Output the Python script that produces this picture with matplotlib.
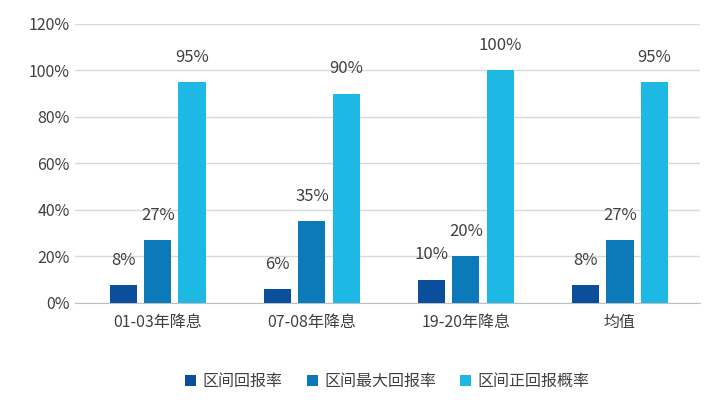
import numpy as np
import matplotlib.pyplot as plt

plt.rcParams['font.family'] = ['Noto Sans CJK SC', 'DejaVu Sans']

categories = ['01-03年降息', '07-08年降息', '19-20年降息', '均值']
series_names = ['区间回报率', '区间最大回报率', '区间正回报概率']
ret = [7.7, 6, 10, 7.7]
max_ret = [27, 35, 20, 27]
pos_prob = [95, 90, 100, 95]
colors = ['#0B4F9C', '#0C79B8', '#1DB9E4']

fig = plt.figure(figsize=(7.18, 4.12), dpi=100)
ax = fig.add_axes([0.104, 0.265, 0.871, 0.677])

x = np.arange(len(categories))
w = 0.176
off = 0.222
for i, (vals, c, name) in enumerate(zip([ret, max_ret, pos_prob], colors, series_names)):
    xs = x + (i - 1) * off
    ax.bar(xs, vals, width=w, color=c, label=name, zorder=3)
    for xi, v in zip(xs, vals):
        ax.text(xi, v + 7, f'{v:.0f}%', ha='center', va='bottom', fontsize=12, color='#404040')

ax.set_ylim(0, 120)
ax.set_xlim(-0.54, len(categories) - 0.48)
ax.set_yticks(range(0, 121, 20))
ax.set_yticklabels([f'{t}%' for t in range(0, 121, 20)])
ax.set_xticks(x)
ax.set_xticklabels(categories)
ax.tick_params(axis='both', length=0, labelsize=11.5, colors='#404040')
ax.tick_params(axis='x', pad=8)
ax.grid(axis='y', color='#D9D9D9', linewidth=1, zorder=0)
for s in ['top', 'right', 'left']:
    ax.spines[s].set_visible(False)
ax.spines['bottom'].set_color('#BFBFBF')

ax.legend(loc='upper center', bbox_to_anchor=(0.5, -0.2), ncol=3, frameon=False,
          fontsize=11.5, handlelength=0.7, handleheight=0.7, columnspacing=1.5,
          handletextpad=0.4, labelcolor='#404040')

fig.savefig('out.png', dpi=100)
